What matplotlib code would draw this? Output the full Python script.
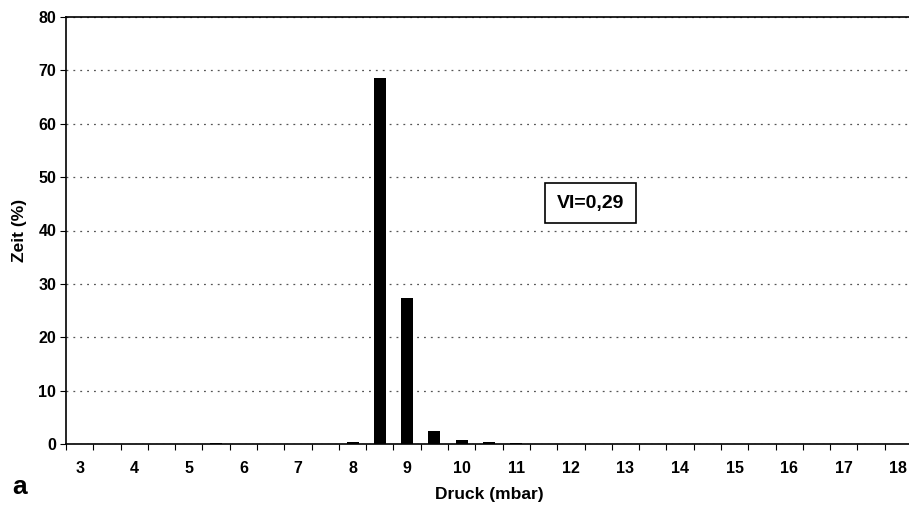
import numpy as np
import matplotlib.pyplot as plt

plt.rcParams['font.family'] = ['Liberation Sans', 'DejaVu Sans']

# pressure bins (mbar) and time share (%)
druck = [3.0, 3.5, 4.0, 4.5, 5.0, 5.5, 6.0, 6.5, 7.0, 7.5, 8.0, 8.5, 9.0, 9.5,
         10.0, 10.5, 11.0, 11.5, 12.0, 12.5, 13.0, 13.5, 14.0, 14.5, 15.0,
         15.5, 16.0, 16.5, 17.0, 17.5, 18.0]
zeit = [0, 0, 0, 0, 0, 0.2, 0, 0, 0, 0, 0.4, 68.5, 27.3, 2.4,
        0.7, 0.4, 0.2, 0, 0, 0, 0, 0, 0, 0, 0,
        0, 0, 0, 0, 0, 0]
xticks = list(range(3, 19))
label_vi = "VI=0,29"

fig = plt.figure(figsize=(9.09, 5.05), dpi=100)
ax = fig.add_axes([66 / 909, 1 - 444 / 505, (912 - 66) / 909, (444 - 17) / 505])

ax.bar(druck, zeit, width=0.22, color='black', zorder=3)

ax.set_xlim(2.75, 18.25)
ax.set_ylim(0, 80)
ax.set_yticks(range(0, 81, 10))
ax.yaxis.grid(True, linestyle=(0, (1.5, 4)), color='#555555', linewidth=0.9)

# tick marks at bin edges, labels at integer centres
ax.set_xticks(np.arange(2.75, 18.3, 0.5))
ax.set_xticklabels([])
ax.set_xticks(xticks, minor=True)
ax.set_xticklabels([str(t) for t in xticks], minor=True)
ax.tick_params(axis='x', which='major', length=4, direction='out', width=0.8)
ax.tick_params(axis='x', which='minor', length=0, pad=12, labelsize=11.5)
for lab in ax.get_xticklabels(minor=True):
    lab.set_fontweight('bold')
ax.tick_params(axis='y', length=4, width=0.8, labelsize=11.5, pad=3)
for lab in ax.get_yticklabels():
    lab.set_fontweight('bold')

for s in ['left', 'bottom', 'top']:
    ax.spines[s].set_linewidth(1.2)
ax.spines['right'].set_visible(False)

ax.set_xlabel("Druck (mbar)", fontsize=12.5, fontweight='bold', labelpad=8)
ax.set_ylabel("Zeit (%)", fontsize=12.5, fontweight='bold', labelpad=8)

ax.text(12.36, 45.1, label_vi, fontsize=14, fontweight='bold', ha='center', va='center',
        bbox=dict(boxstyle='square,pad=0.6', facecolor='white', edgecolor='black', linewidth=1.2),
        zorder=5)

fig.text(20 / 909, 1 - 487 / 505, "a", fontsize=19, fontweight='bold', ha='center', va='center')

fig.savefig("out.png", dpi=100)
